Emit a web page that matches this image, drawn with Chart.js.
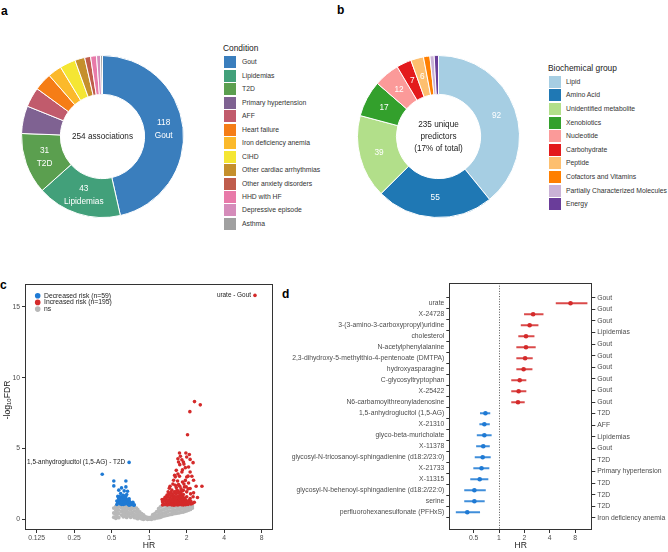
<!DOCTYPE html>
<html><head><meta charset="utf-8">
<script src="https://cdn.jsdelivr.net/npm/chart.js@4.4.1/dist/chart.umd.min.js"></script>
<style>
html,body{margin:0;padding:0;background:#fff;}
body{width:668px;height:552px;position:relative;overflow:hidden;font-family:"Liberation Sans",Arial,Helvetica,sans-serif;}
canvas{position:absolute;display:block;}
.pl{position:absolute;font-weight:bold;font-size:12px;line-height:12px;color:#000;}
.lgT{position:absolute;font-size:8.4px;line-height:10px;color:#222;white-space:nowrap;}
.lgS{position:absolute;width:12px;height:12px;}
.lgL{position:absolute;font-size:6.8px;line-height:8px;color:#333;white-space:nowrap;}
</style></head><body>
<div class="pl" style="left:1px;top:5px">a</div>
<div class="pl" style="left:337px;top:4px">b</div>
<div class="pl" style="left:0px;top:279px">c</div>
<div class="pl" style="left:282px;top:288px">d</div>
<canvas id="cA" width="163" height="163" style="left:21px;top:55px"></canvas>
<canvas id="cB" width="163" height="163" style="left:357px;top:55px"></canvas>
<canvas id="cC" width="280" height="274" style="left:0px;top:278px"></canvas>
<canvas id="cD" width="383" height="275" style="left:285px;top:277px"></canvas>
<script>
// ---------------- DATA ----------------
// Panel a
const conditions = ['Gout','Lipidemias','T2D','Primary hypertension','AFF','Heart failure','Iron deficiency anemia','CIHD','Other cardiac arrhythmias','Other anxiety disorders','HHD with HF','Depressive episode','Asthma'];
const conditionCounts = [118,43,31,14,10,9,7,8,5,3,3,2,1];
const conditionColors = ['#3a7ebd','#42a07a','#5b9f4f','#7f6292','#c15b6c','#f57d16','#fbb92b','#f5e633','#c58f2c','#bf5c4c','#e87aa9','#d58cba','#a0a0a0'];
const totalAssociations = '254 associations';

// Panel b
const groups = ['Lipid','Amino Acid','Unidentified metabolite','Xenobiotics','Nucleotide','Carbohydrate','Peptide','Cofactors and Vitamins','Partially Characterized Molecules','Energy'];
const groupCounts = [92,55,39,17,12,7,6,3,2,2];
const groupColors = ['#a6cee3','#1f78b4','#b2df8a','#33a02c','#fb9a99','#e31a1c','#fdbf6f','#ff7f00','#cab2d6','#6a3d9a'];
const predictorsText = ['235 unique','predictors','(17% of total)'];

// Panel c (volcano): [HR, -log10 FDR]
const volcanoTicks = [0.125,0.25,0.5,1,2,4,8];
const volcanoYTicks = [0,5,10,15];
const volcanoLegend = ['Decreased risk (n=59)','Increased risk (n=195)','ns'];
const nsPoints = [
[0.52,0.15],[0.52,0.45],[0.52,0.8],
[0.54,0.08],[0.54,0.35],[0.54,0.62],[0.54,0.92],
[0.55,0.25],[0.55,0.52],[0.55,0.78],[0.55,1.0],
[0.57,0.12],[0.57,0.4],[0.57,0.66],[0.57,0.9],
[0.60,0.3],[0.60,0.56],[0.60,0.82],[0.60,0.99],
[0.62,0.18],[0.62,0.45],[0.62,0.7],[0.62,0.95],
[0.64,0.3],[0.64,0.57],[0.64,0.84],
[0.66,0.14],[0.66,0.4],[0.66,0.65],[0.66,0.92],
[0.68,0.26],[0.68,0.5],[0.68,0.76],[0.68,0.98],
[0.71,0.15],[0.71,0.4],[0.71,0.66],[0.71,0.9],
[0.73,0.24],[0.73,0.5],[0.73,0.77],
[0.76,0.13],[0.76,0.36],[0.76,0.6],[0.76,0.86],
[0.79,0.1],[0.79,0.3],[0.79,0.55],[0.79,0.8],
[0.81,0.05],[0.81,0.25],[0.81,0.46],[0.81,0.68],
[0.84,0.1],[0.84,0.3],[0.84,0.52],
[0.87,0.04],[0.87,0.2],[0.87,0.4],
[0.90,0.01],[0.90,0.15],[0.90,0.32],
[0.93,0.05],[0.93,0.2],
[0.97,0.0],[0.97,0.14],
[1.00,0.02],[1.00,0.12],
[1.04,0.0],[1.04,0.15],
[1.07,0.05],[1.07,0.2],[1.07,0.34],
[1.11,0.06],[1.11,0.22],[1.11,0.4],
[1.15,0.1],[1.15,0.3],[1.15,0.55],
[1.19,0.12],[1.19,0.32],[1.19,0.52],[1.19,0.75],
[1.23,0.15],[1.23,0.36],[1.23,0.6],[1.23,0.88],
[1.27,0.2],[1.27,0.42],[1.27,0.66],[1.27,0.95],
[1.32,0.24],[1.32,0.46],[1.32,0.7],[1.32,0.96],
[1.37,0.28],[1.37,0.5],[1.37,0.75],[1.37,1.0],
[1.41,0.3],[1.41,0.55],[1.41,0.8],[1.41,0.98],
[1.46,0.34],[1.46,0.6],[1.46,0.85],
[1.52,0.36],[1.52,0.56],[1.52,0.8],[1.52,1.0],
[1.57,0.4],[1.57,0.62],[1.57,0.86],
[1.63,0.42],[1.63,0.65],[1.63,0.9],[1.63,1.0],
[1.68,0.45],[1.68,0.66],[1.68,0.86],
[1.74,0.46],[1.74,0.7],[1.74,0.95],
[1.80,0.5],[1.80,0.72],[1.80,0.92],
[1.87,0.52],[1.87,0.76],[1.87,0.99],
[1.93,0.56],[1.93,0.76],[1.93,0.95],
[2.00,0.6],[2.00,0.8],[2.00,0.98],
[2.07,0.66],[2.07,0.86],
[2.14,0.7],[2.14,0.9],
[2.22,0.8],[2.22,0.95]
];
const decreasedPoints = [
[0.42,3.18],[0.52,2.71],[0.52,2.36],[0.65,2.71],[0.60,2.22],[0.65,2.29],[0.63,2.01],[0.67,1.98],[0.57,2.06],[0.59,1.83],[0.56,1.62],[0.58,1.55],[0.60,1.60],[0.62,1.70],[0.64,1.52],[0.66,1.75],[0.69,1.45],
[0.55,1.05],[0.56,1.20],[0.57,1.35],[0.58,1.10],[0.59,1.25],[0.59,1.45],[0.60,1.05],[0.61,1.30],[0.61,1.15],[0.62,1.40],[0.62,1.05],[0.63,1.20],[0.64,1.35],[0.64,1.08],[0.65,1.22],[0.66,1.12],[0.66,1.40],[0.67,1.28],[0.68,1.05],[0.68,1.18],[0.69,1.32],[0.70,1.10],[0.70,1.22],[0.71,1.04],[0.72,1.15],[0.73,1.08],[0.74,1.20],[0.76,1.02],[0.58,1.60],[0.60,1.42],[0.63,1.50],[0.65,1.60],[0.57,1.48],[0.55,1.30],[0.62,1.62],[0.69,1.00],[0.75,1.00],
[0.69,4.02]
];
const increasedPoints = [
[2.31,8.31],[2.57,8.08],[2.12,7.60],[2.03,5.97],
[1.75,4.68],[1.97,4.68],[2.10,4.58],[1.70,4.28],[1.83,4.21],[1.72,4.05],[1.88,4.05],[2.13,4.23],[2.25,4.00],[1.76,3.86],[2.07,3.69],[1.95,3.65],[1.65,3.46],[1.83,3.34],[2.13,3.34],[1.60,3.11],[1.75,3.04],[2.00,2.99],[2.20,3.04],[2.27,2.76],[1.57,2.76],[1.69,2.71],[1.85,2.64],[2.07,2.57],[1.47,2.34],[1.62,2.41],[1.76,2.34],[1.92,2.29],[2.38,2.34],[2.65,2.34],[2.13,2.18],[1.52,2.06],[1.67,2.06],[1.83,1.99],[2.00,1.94],[2.27,1.87],[1.39,1.71],[2.13,1.47],[2.44,1.54],[1.27,1.40],
[1.45,2.20],[1.55,2.50],[1.65,2.25],[1.72,2.45],[1.80,2.15],[1.90,2.50],[1.98,2.30],[2.05,2.15],[1.60,1.95],[1.70,2.00],[1.78,1.95],[1.88,2.05],[1.50,1.90],[2.15,1.80],[2.25,1.60],[1.42,1.95],[1.95,2.75],[1.70,3.20],[1.85,3.50],[2.05,3.05],[1.62,3.00],[1.90,3.90],[1.78,4.45],[2.00,4.40],
[1.28,1.02],[1.28,1.25],[1.31,1.10],[1.31,1.40],[1.34,1.05],[1.34,1.30],[1.34,1.55],[1.37,1.15],[1.37,1.45],
[1.40,1.02],[1.40,1.25],[1.40,1.60],[1.43,1.10],[1.43,1.35],[1.43,1.75],[1.46,1.05],[1.46,1.20],[1.46,1.50],
[1.49,1.12],[1.49,1.30],[1.49,1.65],[1.49,1.85],[1.52,1.02],[1.52,1.22],[1.52,1.42],
[1.55,1.08],[1.55,1.30],[1.55,1.55],[1.55,1.75],[1.58,1.00],[1.58,1.18],[1.58,1.40],[1.58,1.62],
[1.61,1.10],[1.61,1.28],[1.61,1.50],[1.61,1.90],[1.64,1.04],[1.64,1.20],[1.64,1.38],[1.64,1.60],[1.64,1.80],
[1.67,1.12],[1.67,1.30],[1.67,1.48],[1.70,1.02],[1.70,1.20],[1.70,1.40],[1.70,1.65],[1.70,1.88],
[1.73,1.10],[1.73,1.28],[1.73,1.52],[1.76,1.05],[1.76,1.22],[1.76,1.42],[1.76,1.70],
[1.79,1.14],[1.79,1.32],[1.79,1.58],[1.79,1.80],[1.82,1.03],[1.82,1.20],[1.82,1.45],
[1.85,1.10],[1.85,1.30],[1.85,1.62],[1.88,1.02],[1.88,1.18],[1.88,1.40],[1.88,1.75],
[1.92,1.10],[1.92,1.28],[1.92,1.50],[1.96,1.04],[1.96,1.20],[1.96,1.38],
[2.00,1.12],[2.00,1.30],[2.00,1.60],[2.05,1.05],[2.05,1.22],[2.10,1.15],[2.10,1.35],
[2.16,1.08],[2.16,1.28],[2.22,1.12],[2.30,1.20],
[7.06,15.80]
];
const volcanoAnnotations = [
  {text:'urate - Gout', hr:7.06, y:15.80},
  {text:'1,5-anhydroglucitol (1,5-AG) - T2D', hr:0.69, y:4.02}
];

// Panel d (forest)
const metabolites = ['urate','X-24728','3-(3-amino-3-carboxypropyl)uridine','cholesterol','N-acetylphenylalanine','2,3-dihydroxy-5-methylthio-4-pentenoate (DMTPA)','hydroxyasparagine','C-glycosyltryptophan','X-25422','N6-carbamoylthreonyladenosine','1,5-anhydroglucitol (1,5-AG)','X-21310','glyco-beta-muricholate','X-11378','glycosyl-N-tricosanoyl-sphingadienine (d18:2/23:0)','X-21733','X-11315','glycosyl-N-behenoyl-sphingadienine (d18:2/22:0)','serine','perfluorohexanesulfonate (PFHxS)'];
const forestConditions = ['Gout','Gout','Gout','Lipidemias','Gout','Gout','Gout','Gout','Gout','Gout','T2D','AFF','Lipidemias','Gout','T2D','Primary hypertension','T2D','T2D','T2D','Iron deficiency anemia'];
const forestHR = [7.06,2.54,2.31,2.09,2.09,2.04,1.96,1.76,1.71,1.68,0.69,0.67,0.67,0.65,0.64,0.62,0.59,0.51,0.51,0.42];
const forestLo = [4.76,2.00,1.83,1.71,1.62,1.62,1.62,1.41,1.41,1.41,0.60,0.59,0.55,0.54,0.52,0.50,0.46,0.39,0.39,0.31];
const forestHi = [11.1,3.34,2.91,2.61,2.70,2.49,2.47,2.09,2.09,2.00,0.78,0.77,0.81,0.77,0.79,0.76,0.74,0.69,0.67,0.59];
const forestTicks = [0.5,1,2,4,8];
const refHR = 1;

// ---------------- STYLE ----------------
const RED = '#d42a2a', BLUE = '#1f7ad4', GREY = '#b8b8b8';
const FONT = '"Liberation Sans", Arial, Helvetica, sans-serif';
Chart.defaults.font.family = FONT;
Chart.defaults.color = '#4d4d4d';
Chart.defaults.animation = false;
Chart.defaults.events = [];
Chart.defaults.responsive = false;
Chart.defaults.plugins.legend.display = false;
Chart.defaults.plugins.tooltip.enabled = false;

// ---------------- LEGENDS (HTML) ----------------
function htmlLegend(title, names, colors, o){
  const t = document.createElement('div'); t.className='lgT'; t.textContent=title;
  t.style.left=o.titleX+'px'; t.style.top=o.titleTop+'px'; document.body.appendChild(t);
  names.forEach((n,i)=>{
    const cy = o.row0 + o.dy*i;
    const s = document.createElement('div'); s.className='lgS';
    s.style.left=o.swX+'px'; s.style.top=(cy-6)+'px'; s.style.background=colors[i];
    document.body.appendChild(s);
    const l = document.createElement('div'); l.className='lgL'; l.textContent=n;
    l.style.left=o.txtX+'px'; l.style.top=(cy-4)+'px'; document.body.appendChild(l);
  });
}
htmlLegend('Condition', conditions, conditionColors, {titleX:223, titleTop:43, row0:62.3, dy:13.47, swX:224, txtX:242});
htmlLegend('Biochemical group', groups, groupColors, {titleX:548, titleTop:63, row0:81.7, dy:13.6, swX:549, txtX:566});

// ---------------- PLUGINS ----------------
const arcLabels = {
  id:'arcLabels',
  afterDatasetsDraw(chart, args, opts){
    const {ctx} = chart; const meta = chart.getDatasetMeta(0); const ds = chart.data.datasets[0];
    ctx.save(); ctx.fillStyle='#fff'; ctx.font = `${opts.size}px ${FONT}`; ctx.textAlign='center'; ctx.textBaseline='middle';
    meta.data.forEach((arc,i)=>{
      const lines = opts.fn(ds.data[i], chart.data.labels[i]); if(!lines) return;
      const p = arc.tooltipPosition();
      lines.forEach((l,j)=>ctx.fillText(l, p.x, p.y + (j-(lines.length-1)/2)*opts.lh));
    });
    ctx.restore();
  }
};
const centerText = {
  id:'centerText',
  afterDraw(chart, args, opts){
    const {ctx, chartArea:a} = chart; const cx=(a.left+a.right)/2, cy=(a.top+a.bottom)/2;
    ctx.save(); ctx.fillStyle='#222'; ctx.font=`${opts.size}px ${FONT}`; ctx.textAlign='center'; ctx.textBaseline='middle';
    opts.lines.forEach((l,i)=>ctx.fillText(l, cx, cy + (i-(opts.lines.length-1)/2)*opts.lh));
    ctx.restore();
  }
};
function drawBox(ctx, a){
  ctx.save(); ctx.strokeStyle='#333'; ctx.lineWidth=1;
  ctx.strokeRect(Math.round(a.left)+0.5, Math.round(a.top)+0.5, Math.round(a.right)-Math.round(a.left)-1, Math.round(a.bottom)-Math.round(a.top)-1);
  ctx.restore();
}
const volcanoDeco = {
  id:'volcanoDeco',
  afterDraw(chart){
    const {ctx, chartArea:a, scales:{x,y}} = chart;
    drawBox(ctx, a);
    ctx.save();
    // annotations
    ctx.font=`6.4px ${FONT}`; ctx.fillStyle='#222'; ctx.textAlign='right'; ctx.textBaseline='middle';
    volcanoAnnotations.forEach(an=>ctx.fillText(an.text, x.getPixelForValue(an.hr)-4, y.getPixelForValue(an.y)));
    // legend
    const lc=[BLUE,RED,GREY];
    ctx.textAlign='left'; ctx.font=`6.8px ${FONT}`;
    volcanoLegend.forEach((t,i)=>{
      const cy = 17.7 + 6.7*i;
      ctx.fillStyle=lc[i]; ctx.beginPath(); ctx.arc(37.7, cy, 2.8, 0, Math.PI*2); ctx.fill();
      ctx.fillStyle='#222'; ctx.fillText(t, 44, cy);
    });
    // axis titles
    ctx.fillStyle='#222'; ctx.textAlign='center'; ctx.textBaseline='middle';
    ctx.font=`8.6px ${FONT}`;
    ctx.fillText('HR', (a.left+a.right)/2, 268);
    ctx.translate(8, 122); ctx.rotate(-Math.PI/2);
    const parts=[['-log',8.6,0],['10',6,1.8],['FDR',8.6,0]];
    let total=0; parts.forEach(p=>{ctx.font=`${p[1]}px ${FONT}`; total+=ctx.measureText(p[0]).width;});
    let xx=-total/2; ctx.textAlign='left';
    parts.forEach(p=>{ctx.font=`${p[1]}px ${FONT}`; ctx.fillText(p[0], xx, p[2]); xx+=ctx.measureText(p[0]).width;});
    ctx.restore();
  }
};
const forestDeco = {
  id:'forestDeco',
  beforeDatasetsDraw(chart){
    const {ctx, chartArea:a, scales:{x}} = chart;
    const px = Math.round(x.getPixelForValue(refHR))+0.5;
    ctx.save(); ctx.setLineDash([1,1.6]); ctx.strokeStyle='#555'; ctx.lineWidth=1;
    ctx.beginPath(); ctx.moveTo(px,a.top); ctx.lineTo(px,a.bottom); ctx.stroke(); ctx.restore();
  },
  afterDraw(chart){
    const {ctx, chartArea:a} = chart;
    drawBox(ctx, a);
    ctx.save(); ctx.fillStyle='#222'; ctx.font=`8.6px ${FONT}`; ctx.textAlign='center'; ctx.textBaseline='middle';
    ctx.fillText('HR', (a.left+a.right)/2, 269);
    ctx.restore();
  }
};

// ---------------- CHARTS ----------------
function donut(id, labels, values, colors, fn, lines, lh){
  return new Chart(document.getElementById(id), {
    type:'doughnut',
    data:{labels, datasets:[{data:values, backgroundColor:colors, borderColor:'#fff', borderWidth:1}]},
    options:{cutout:'52%', layout:{padding:0},
      plugins:{arcLabels:{fn, size:8.3, lh:13}, centerText:{lines, size:8.2, lh}}},
    plugins:[arcLabels, centerText]
  });
}
donut('cA', conditions, conditionCounts, conditionColors, (v,n)=> v>=30 ? [String(v), n] : null, [totalAssociations], 12);
donut('cB', groups, groupCounts, groupColors, (v,n)=> v>=6 ? [String(v)] : null, predictorsText, 12);

const tickFont = {size:6.8};
const axisCommon = {
  grid:{display:true, drawOnChartArea:false, drawTicks:true, tickLength:3, color:'#333'},
  border:{display:false}
};

new Chart(document.getElementById('cC'), {
  type:'scatter',
  data:{datasets:[
    {label:'Increased', order:0, data:increasedPoints.map(p=>({x:p[0], y:p[1]})), backgroundColor:RED, pointRadius:1.8, borderWidth:0},
    {label:'Decreased', order:1, data:decreasedPoints.map(p=>({x:p[0], y:p[1]})), backgroundColor:BLUE, pointRadius:1.8, borderWidth:0},
    {label:'ns', order:2, data:nsPoints.map(p=>({x:p[0], y:p[1]})), backgroundColor:GREY, pointRadius:1.9, borderWidth:0}
  ]},
  options:{
    layout:{padding:{top:5, right:7, left:0, bottom:0}},
    scales:{
      x:{type:'logarithmic', min:0.1008, max:9.85, ...axisCommon,
        afterBuildTicks:s=>{s.ticks = volcanoTicks.map(v=>({value:v}));},
        afterFit:s=>{s.height=22;},
        ticks:{font:tickFont, padding:1, autoSkip:false, maxRotation:0, callback:v=>String(v)}},
      y:{type:'linear', min:-0.75, max:16.6, ...axisCommon,
        afterBuildTicks:s=>{s.ticks = volcanoYTicks.map(v=>({value:v}));},
        afterFit:s=>{s.width=25;},
        ticks:{font:tickFont, padding:2, autoSkip:false, callback:v=>String(v)}}
    }
  },
  plugins:[volcanoDeco]
});

const rowColors = forestHR.map(v=> v>1 ? RED : BLUE);
const barColors = forestHR.map(v=> v>1 ? 'rgba(212,42,42,0.85)' : 'rgba(31,122,212,0.85)');
new Chart(document.getElementById('cD'), {
  type:'scatter',
  data:{datasets:[
    {type:'scatter', order:0, data:metabolites.map((m,i)=>({x:forestHR[i], y:i})), pointRadius:2.3, pointBackgroundColor:rowColors, pointBorderWidth:0, xAxisID:'x', yAxisID:'y'},
    {type:'bar', order:1, indexAxis:'y', data:metabolites.map((m,i)=>({x:[forestLo[i], forestHi[i]], y:i})), backgroundColor:barColors, borderWidth:0, barThickness:1.4, xAxisID:'x', yAxisID:'y'}
  ]},
  options:{
    layout:{padding:{top:5, right:0, left:0, bottom:0}},
    scales:{
      x:{type:'logarithmic', position:'bottom', min:0.257, max:12.8, ...axisCommon,
        afterBuildTicks:s=>{s.ticks = forestTicks.map(v=>({value:v}));},
        afterFit:s=>{s.height=22;},
        ticks:{font:tickFont, padding:1, autoSkip:false, maxRotation:0, callback:v=>String(v)}},
      y:{type:'linear', position:'left', reverse:true, min:-1.27, max:20.05, ...axisCommon,
        afterBuildTicks:s=>{s.ticks = metabolites.map((m,i)=>({value:i}));},
        afterFit:s=>{s.width=164.3;},
        ticks:{font:tickFont, padding:2, autoSkip:false, callback:v=>metabolites[v]}},
      y2:{type:'linear', position:'right', reverse:true, min:-1.27, max:20.05, ...axisCommon,
        afterBuildTicks:s=>{s.ticks = forestConditions.map((c,i)=>({value:i}));},
        afterFit:s=>{s.width=75.7;},
        ticks:{font:tickFont, padding:2, autoSkip:false, callback:v=>forestConditions[v]}}
    }
  },
  plugins:[forestDeco]
});
</script>
</body></html>
